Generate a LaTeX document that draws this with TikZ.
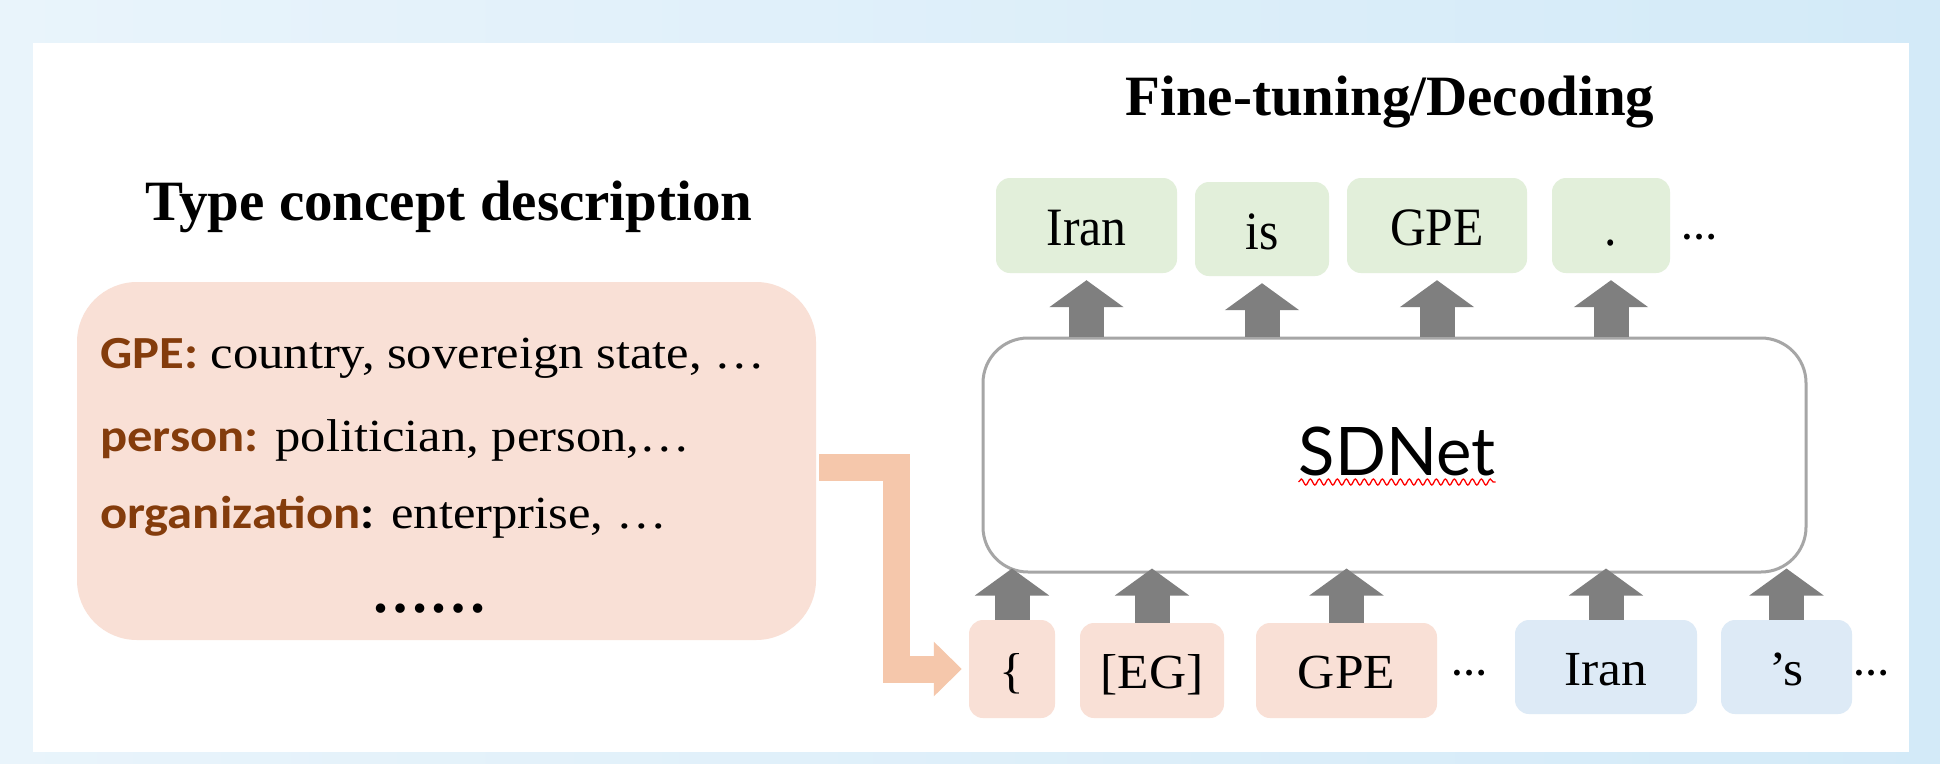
\documentclass[tikz,border=0pt]{standalone}
\usepackage{graphicx}
\usepackage{fontspec}
\setmainfont{Liberation Serif}
\newfontfamily\calib{Carlito}
\newfontfamily\sdfont{Lato}
\usetikzlibrary{arrows.meta,decorations.pathmorphing,calc}
\definecolor{bgL}{HTML}{E9F4FB}
\definecolor{bgR}{HTML}{D3EAF8}
\definecolor{gtokc}{HTML}{E2EFDA}
\definecolor{ptokc}{HTML}{F9E0D6}
\definecolor{btokc}{HTML}{DDEAF6}
\definecolor{arrpeach}{HTML}{F5C7AB}
\definecolor{arrgray}{HTML}{7F7F7F}
\definecolor{bordgray}{HTML}{A6A6A6}
\definecolor{brownc}{HTML}{843C0C}
\newcommand\topsc[1]{\scalebox{.92}[1]{#1}}
\newcommand\botsc[1]{\scalebox{1.05}[1]{#1}}
\newcommand\lsc[1]{\scalebox{1.1}[1]{#1}}
\newcommand\lab[1]{{\calib\bfseries\color{brownc}#1}}
\begin{document}
\begin{tikzpicture}[x=1pt,y=-1pt,
  tokbase/.style={rounded corners=14pt, inner sep=0pt, text depth=0pt},
  gtok/.style={tokbase, fill=gtokc, minimum height=95pt, text height=40pt, font=\fontsize{54}{60}\selectfont},
  ptok/.style={tokbase, fill=ptokc, minimum height=95pt, text height=36pt, font=\fontsize{49}{54}\selectfont},
  btok/.style={tokbase, fill=btokc, minimum height=95pt, text height=36pt, font=\fontsize{49}{54}\selectfont},
  heading/.style={anchor=base, inner sep=0pt, font=\bfseries\fontsize{57}{62}\selectfont},
  line/.style={anchor=base west, inner sep=0pt, font=\fontsize{46}{50}\selectfont},
  more/.style={inner sep=0pt, font=\bfseries\fontsize{36}{38}\selectfont},
  blk/.style={line width=35pt, draw=arrgray, -{Triangle[width=73pt,length=27pt]}},
  flow/.style={line width=27pt, draw=arrpeach, line join=miter, -{Triangle[width=53pt,length=28pt]}}
]
\useasboundingbox (0,0) rectangle (1940,763);
\shade[left color=bgL, right color=bgR] (0,0) rectangle (1940,763);
\fill[white] (33,43) rectangle (1909,752);

% headings
\node[heading] (h2) at (1390,115) {Fine-tuning/Decoding};
\node[heading] (h1) at (449,220) {Type concept description};

% left box
\node[fill=ptokc, rounded corners=60pt, minimum width=739pt, minimum height=358pt, inner sep=0pt] (lbox) at (446.5,461) {};
\node[line] (l1) at (100,368) {\lsc{\lab{GPE:} country, sovereign state, …}};
\node[line] (l2) at (100,451) {\lsc{\lab{person:} politician, person,…}};
\node[line] (l3) at (100,528) {\lsc{\lab{organization}{\calib\bfseries :} enterprise, …}};
\node[anchor=base, inner sep=0pt, font=\bfseries\fontsize{58}{60}\selectfont] (l4) at (429.5,612) {……};

% SDNet
\node[draw=bordgray, line width=3pt, rounded corners=45pt, minimum width=823pt, minimum height=234pt, inner sep=0pt] (sd) at (1394.5,455) {};
\node[anchor=base, inner sep=0pt, font=\sdfont\fontsize{67}{72}\selectfont] (sdt) at (1397,475) {SDNet};
\draw[red, line width=1.3pt, decorate, decoration={snake, segment length=9pt, amplitude=3pt}]
  ([yshift=-7pt]sdt.base west) -- ([yshift=-7pt]sdt.base east);

% top tokens
\node[gtok, minimum width=181pt] (t1) at (1086.5,225.5) {\topsc{Iran}};
\node[gtok, minimum width=134pt, minimum height=94pt] (t2) at (1262,229) {\topsc{is}};
\node[gtok, minimum width=180pt] (t3) at (1437,225.5) {\topsc{GPE}};
\node[gtok, minimum width=118pt] (t4) at (1611,225.5) {\topsc{.}};
\node[more] (m1) at (1699,237) {…};

% bottom tokens
\node[ptok, minimum width=86pt, minimum height=98pt] (b1) at (1012,669) {\botsc{\{}};
\node[ptok, minimum width=144pt] (b2) at (1152,670.5) {\botsc{[EG]}};
\node[ptok, minimum width=181pt] (b3) at (1346.5,670.5) {\botsc{GPE}};
\node[more] (m2) at (1469,673) {…};
\node[btok, minimum width=182pt, minimum height=94pt] (b4) at (1606,667) {\botsc{Iran}};
\node[btok, minimum width=131pt, minimum height=94pt] (b5) at (1786.5,667) {\botsc{’s}};
\node[more] (m3) at (1871,673) {…};

% arrows
\foreach \t in {t1,t2,t3,t4}
  \draw[blk, shorten >=7pt] (\t.south |- sd.north) -- (\t.south);
\foreach \b in {b1,b2,b3,b4,b5}
  \draw[blk, shorten >=-5pt] (\b.north) -- (\b.north |- sd.south);

% flow arrow from description to input
\coordinate (bend) at (896,467);
\coordinate (fstart) at ($(lbox.east |- bend)+(3,0)$);
\draw[flow, shorten >=7pt] (fstart) -- (bend) -- (bend |- b1.west) -- (b1.west);
\end{tikzpicture}
\end{document}
